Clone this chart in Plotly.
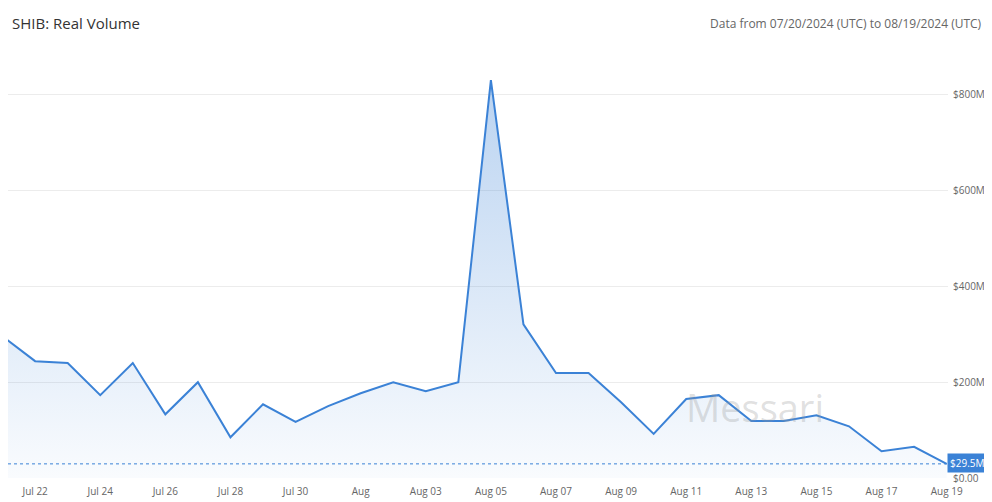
import pandas as pd
import plotly.graph_objects as go

dates = pd.date_range("2024-07-21", "2024-08-19", freq="D")
volume_m = [296, 244, 240, 173, 240, 133, 200, 85, 154, 117, 150, 177, 200, 181, 200,
            831, 321, 219, 219, 158, 92, 165, 173, 119, 119, 131, 108, 56, 65, 29.5]
volume = [v * 1e6 for v in volume_m]

tick_dates = pd.date_range("2024-07-22", "2024-08-19", freq="2D")
tick_text = ["Aug" if d.day == 1 else d.strftime("%b %d") for d in tick_dates]
y_ticks = [0, 200e6, 400e6, 600e6, 800e6]
y_text = ["$0.00", "$200M", "$400M", "$600M", "$800M"]

fig = go.Figure()
fig.add_trace(go.Scatter(
    x=dates, y=volume, mode="lines",
    line=dict(color="#3b82d6", width=2),
    fill="tozeroy",
    fillgradient=dict(type="vertical", colorscale=[[0, "rgba(59,130,214,0.03)"], [1, "rgba(59,130,214,0.35)"]]),
    hoverinfo="x+y",
))
fig.add_hline(y=volume[-1], line=dict(color="#3b82d6", width=1, dash="dot"))

fig.update_layout(
    width=984, height=494,
    margin=dict(l=0, r=44, t=39, b=24),
    plot_bgcolor="white", paper_bgcolor="white",
    showlegend=False,
    font=dict(family="Open Sans, sans-serif", color="#666"),
    xaxis=dict(range=[pd.Timestamp("2024-07-21 04:00"), pd.Timestamp("2024-08-19 01:00")],
               tickvals=tick_dates, ticktext=tick_text, showgrid=False,
               tickfont=dict(size=10, color="#666"), ticks="", showline=False,
               ticklabelstandoff=6),
    yaxis=dict(range=[0, 900e6], side="right", tickvals=y_ticks, ticktext=y_text,
               gridcolor="#ececec", zeroline=False, tickfont=dict(size=10, color="#666"),
               ticklabelstandoff=4),
    annotations=[
        dict(text="SHIB: Real Volume", xref="paper", yref="paper", x=0, y=1,
             xanchor="left", yanchor="bottom", yshift=12, xshift=2, showarrow=False,
             font=dict(size=15, color="#333")),
        dict(text="Data from 07/20/2024 (UTC) to 08/19/2024 (UTC)", xref="paper", yref="paper",
             x=1, y=1, xanchor="right", yanchor="bottom", yshift=13, xshift=36, showarrow=False,
             font=dict(size=12, color="#666")),
        dict(text="$29.5M", xref="paper", yref="y", x=1, y=volume[-1], xanchor="left",
             showarrow=False, bgcolor="#3b82d6", font=dict(size=10, color="white"),
             borderpad=2, xshift=-1, yshift=1),
        dict(text="Messari", xref="paper", yref="paper", x=0.87, y=0.1,
             showarrow=False, font=dict(size=38, color="rgba(150,150,150,0.3)")),
    ],
)

fig.write_html("out.html")
